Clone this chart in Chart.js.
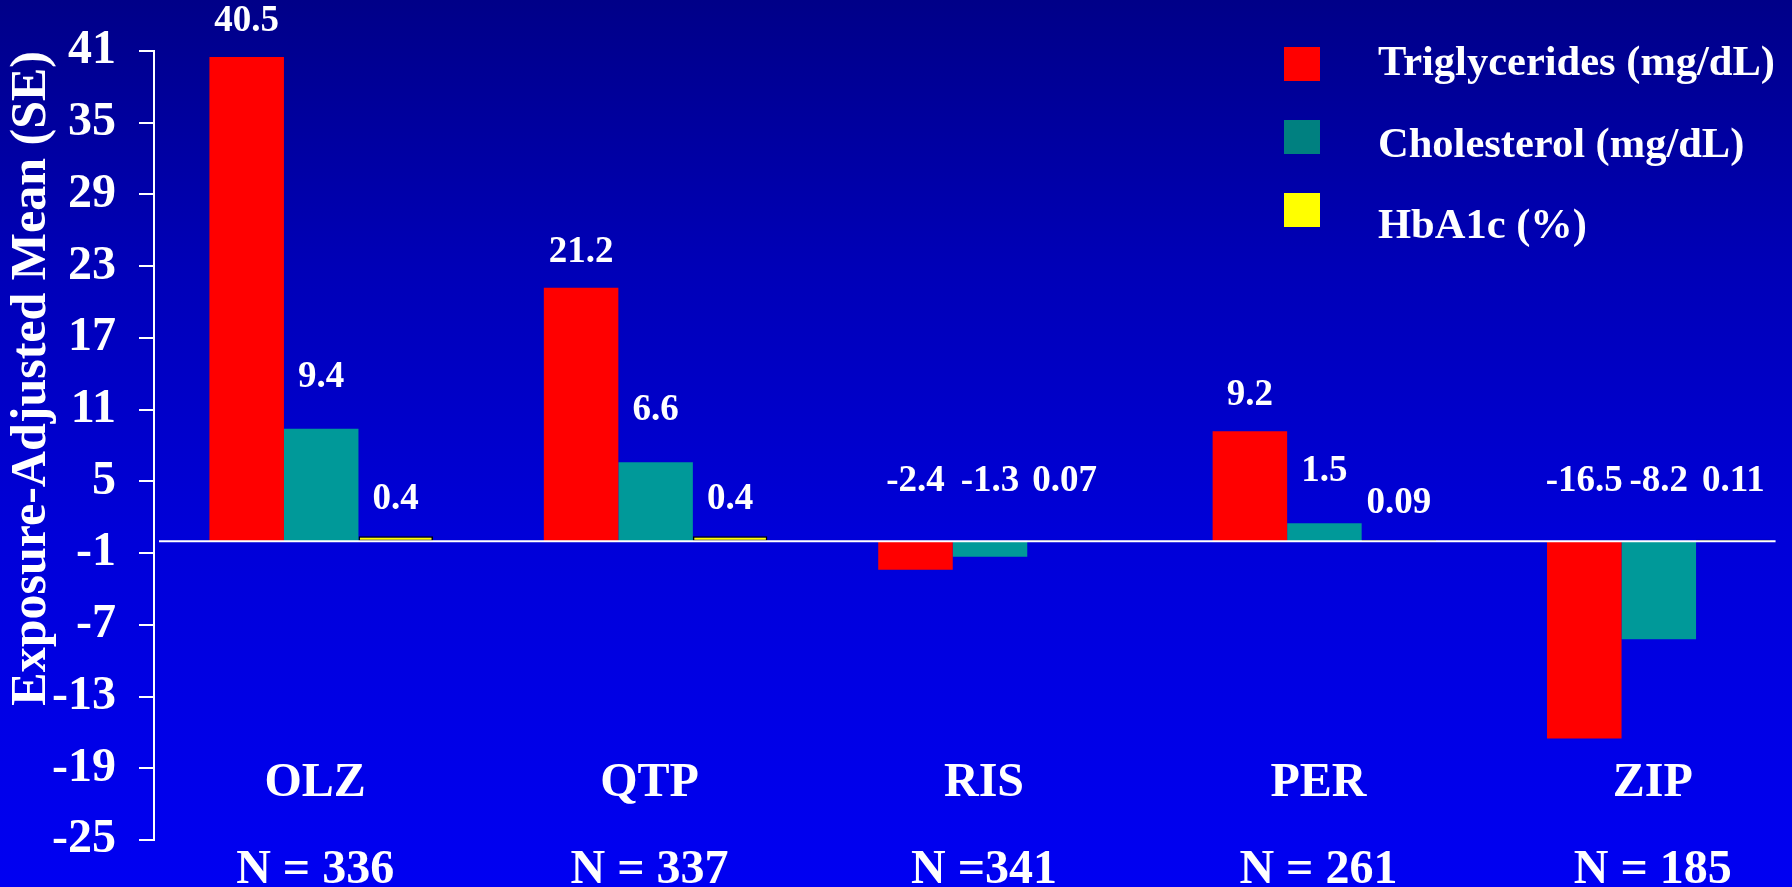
<!DOCTYPE html>
<html>
<head>
<meta charset="utf-8">
<title>Exposure-Adjusted Mean Change by Antipsychotic</title>
<script src="https://cdn.jsdelivr.net/npm/chart.js@4.4.1/dist/chart.umd.min.js"></script>
<style>
  html, body { margin: 0; padding: 0; overflow: hidden; background: #0000f0; }
  #wrap { position: relative; width: 1826px; height: 887px; }
</style>
</head>
<body>
<div id="wrap"><canvas id="chart"></canvas></div>
<script>
// Treatment groups and their sample sizes
const drugs = ['OLZ', 'QTP', 'RIS', 'PER', 'ZIP'];
const sampleSizes = ['N = 336', 'N = 337', 'N =341', 'N = 261', 'N = 185'];

// Exposure-adjusted mean change per group
const triglycerides = [40.5, 21.2, -2.4, 9.2, -16.5];
const cholesterol   = [9.4, 6.6, -1.3, 1.5, -8.2];
const hba1c         = [0.4, 0.4, 0.07, 0.09, 0.11];

const seriesNames = ['Triglycerides (mg/dL)', 'Cholesterol (mg/dL)', 'HbA1c (%)'];

// Value axis tick marks
const yTicks = [41, 35, 29, 23, 17, 11, 5, -1, -7, -13, -19, -25];

const FONT = "'Liberation Serif', 'Times New Roman', Times, serif";

// Blue gradient backdrop behind the whole chart
const backdrop = {
  id: 'backdrop',
  beforeDraw(chart) {
    const { ctx, width, height } = chart;
    const g = ctx.createLinearGradient(0, 0, 0, height);
    g.addColorStop(0, 'rgb(0,0,136)');
    g.addColorStop(0.3, 'rgb(0,0,183)');
    g.addColorStop(0.6, 'rgb(0,0,216)');
    g.addColorStop(1, 'rgb(0,0,242)');
    ctx.save();
    ctx.fillStyle = g;
    ctx.fillRect(0, 0, width, height);
    ctx.restore();
  }
};

// White baseline at zero, spanning the bar groups
const zeroLine = {
  id: 'zeroLine',
  afterDatasetsDraw(chart) {
    const { ctx, chartArea, scales } = chart;
    const y0 = scales.y.getPixelForValue(0);
    const lastMeta = chart.getDatasetMeta(chart.data.datasets.length - 1);
    const lastBar = lastMeta.data[lastMeta.data.length - 1];
    const xEnd = lastBar.x + lastBar.width / 2 + 5;
    ctx.save();
    ctx.strokeStyle = '#ffffff';
    ctx.lineWidth = 2;
    ctx.beginPath();
    ctx.moveTo(chartArea.left + 5, y0);
    ctx.lineTo(xEnd, y0);
    ctx.stroke();
    ctx.restore();
  }
};

// Numeric labels above each bar
const valueLabels = {
  id: 'valueLabels',
  afterDatasetsDraw(chart, args, opts) {
    const { ctx, scales } = chart;
    const y0 = scales.y.getPixelForValue(0);
    const sets = chart.data.datasets;
    ctx.save();
    ctx.font = `bold ${opts.size}px ${FONT}`;
    ctx.fillStyle = '#ffffff';
    ctx.textAlign = 'center';
    ctx.textBaseline = 'alphabetic';
    sets.forEach((ds, d) => {
      const meta = chart.getDatasetMeta(d);
      meta.data.forEach((bar, i) => {
        const v = ds.data[i];
        const groupHasNegative = sets.some(s => s.data[i] < 0);
        const y = groupHasNegative
          ? y0 - opts.negativeGap
          : Math.min(bar.y, bar.base) - opts.gaps[d];
        ctx.fillText(String(v), bar.x, y);
      });
    });
    ctx.restore();
  }
};

// Drug codes and sample sizes under each group, inside the plot's lower band
const groupLabels = {
  id: 'groupLabels',
  afterDraw(chart, args, opts) {
    const { ctx, chartArea, scales } = chart;
    const labels = chart.data.labels;
    ctx.save();
    ctx.font = `bold ${opts.size}px ${FONT}`;
    ctx.fillStyle = '#ffffff';
    ctx.textAlign = 'center';
    ctx.textBaseline = 'alphabetic';
    labels.forEach((lines, i) => {
      const x = scales.x.getPixelForValue(i) + opts.shift;
      lines.forEach((line, k) => {
        ctx.fillText(line, x, chartArea.bottom + opts.firstLine + k * opts.lineStep);
      });
    });
    ctx.restore();
  }
};

// Stacked legend at top right
const sideLegend = {
  id: 'sideLegend',
  afterDraw(chart, args, opts) {
    const { ctx } = chart;
    ctx.save();
    ctx.font = `bold ${opts.size}px ${FONT}`;
    ctx.textAlign = 'left';
    ctx.textBaseline = 'alphabetic';
    chart.data.datasets.forEach((ds, i) => {
      const boxTop = opts.top + i * opts.boxStep;
      ctx.fillStyle = opts.colors[i];
      ctx.fillRect(opts.boxX, boxTop, opts.boxW, opts.boxH);
      ctx.fillStyle = '#ffffff';
      ctx.fillText(ds.label, opts.textX, opts.textTop + i * opts.textStep);
    });
    ctx.restore();
  }
};

new Chart(document.getElementById('chart'), {
  type: 'bar',
  data: {
    labels: drugs.map((d, i) => [d, sampleSizes[i]]),
    datasets: [
      { label: seriesNames[0], data: triglycerides, backgroundColor: '#ff0000', borderWidth: 0 },
      { label: seriesNames[1], data: cholesterol, backgroundColor: '#009999', borderWidth: 0 },
      { label: seriesNames[2], data: hba1c, backgroundColor: '#ffff00',
        borderColor: '#000000', borderWidth: 1.5, borderSkipped: false }
    ]
  },
  options: {
    responsive: true,
    maintainAspectRatio: false,
    animation: false,
    categoryPercentage: 0.6685,
    barPercentage: 1.0,
    layout: { padding: { top: 51, right: 0, bottom: 46, left: 0 } },
    plugins: {
      legend: { display: false },
      tooltip: { enabled: false },
      valueLabels: { size: 37, gaps: [26, 42, 27], negativeGap: 50 },
      groupLabels: { size: 48, firstLine: -44, lineStep: 87, shift: -6 },
      sideLegend: {
        size: 42.5, colors: ['#ff0000', '#008080', '#ffff00'],
        boxX: 1284, boxW: 36, boxH: 34, top: 47, boxStep: 73,
        textX: 1378, textTop: 75, textStep: 81.5
      }
    },
    scales: {
      x: {
        display: false
      },
      y: {
        min: -25,
        max: 41,
        afterBuildTicks(scale) { scale.ticks = yTicks.map(v => ({ value: v })); },
        afterFit(scale) { scale.width = 154; },
        grid: { drawOnChartArea: false, drawTicks: true, tickLength: 15, color: '#ffffff', lineWidth: 2 },
        border: { display: true, color: '#ffffff', width: 2 },
        ticks: {
          color: '#ffffff',
          font: { family: FONT, size: 48, weight: 'bold', lineHeight: 1.0 },
          padding: 23,
          autoSkip: false
        },
        title: {
          display: true,
          text: 'Exposure-Adjusted Mean (SE)',
          color: '#ffffff',
          align: 'end',
          font: { family: FONT, size: 50, weight: 'bold', lineHeight: 1.2 },
          padding: { top: 2, bottom: 0 }
        }
      }
    }
  },
  plugins: [backdrop, zeroLine, valueLabels, groupLabels, sideLegend]
});
</script>
</body>
</html>
